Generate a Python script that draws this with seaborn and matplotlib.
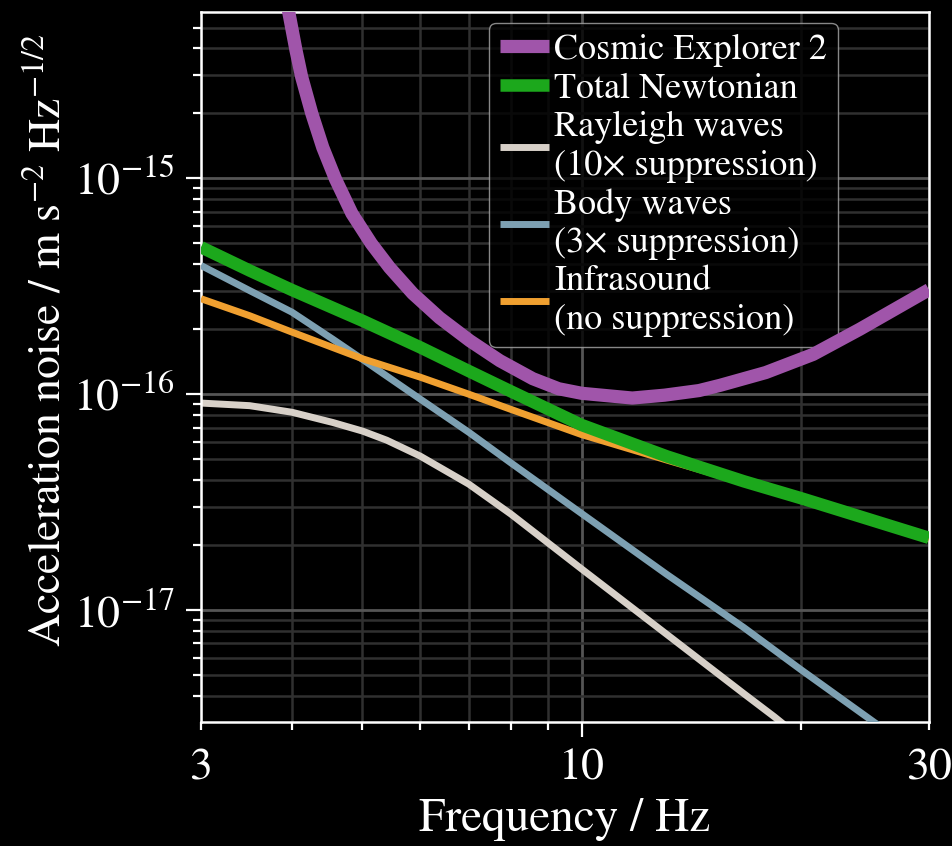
import numpy as np
import pandas as pd
import matplotlib as mpl
import matplotlib.pyplot as plt
from matplotlib.ticker import FixedLocator, FuncFormatter, NullFormatter
import seaborn as sns

# values: frequency in Hz, acceleration noise in m s^-2 Hz^-1/2
ce2_freq = [3.9, 3.963, 4.051, 4.125, 4.259, 4.41, 4.592, 4.835, 5.141, 5.448, 5.861,
            6.38, 7.02, 7.72, 8.57, 9.3, 10.0, 11.74, 13.0, 14.5, 15.5, 17.9, 20.8,
            24.1, 30.0]
ce2_asd = [7.7e-15, 5.81e-15, 3.93e-15, 2.95e-15, 2.0e-15, 1.39e-15, 9.9e-16, 6.88e-16,
           4.99e-16, 3.86e-16, 2.93e-16, 2.26e-16, 1.77e-16, 1.43e-16, 1.18e-16, 1.06e-16,
           1.01e-16, 9.6e-17, 9.9e-17, 1.04e-16, 1.1e-16, 1.26e-16, 1.53e-16, 2.0e-16,
           3.05e-16]

total_freq = [3.0, 3.5, 4.0, 5.0, 6.0, 7.0, 8.0, 10.0, 13.1, 16.7, 20.0, 30.0]
total_asd = [4.8e-16, 3.74e-16, 3.04e-16, 2.19e-16, 1.65e-16, 1.28e-16, 1.03e-16,
             7.2e-17, 5.15e-17, 3.95e-17, 3.3e-17, 2.16e-17]

rayleigh_freq = [3.0, 3.5, 4.0, 4.55, 5.0, 5.4, 6.0, 7.0, 8.0, 10.0, 13.1, 16.7, 18.4, 20.0]
rayleigh_asd = [9.1e-17, 8.85e-17, 8.25e-17, 7.4e-17, 6.75e-17, 6.12e-17, 5.17e-17,
                3.83e-17, 2.78e-17, 1.55e-17, 7.7e-18, 4.1e-18, 3.2e-18, 2.55e-18]

body_freq = [3.0, 3.5, 4.0, 4.55, 5.0, 6.0, 7.0, 8.0, 10.0, 13.1, 16.7, 20.0, 25.3, 30.0]
body_asd = [3.95e-16, 3.02e-16, 2.4e-16, 1.8e-16, 1.45e-16, 9.5e-17, 6.66e-17, 4.8e-17,
            2.8e-17, 1.46e-17, 8.3e-18, 5.3e-18, 3.0e-18, 2.0e-18]

infra_freq = [3.0, 3.5, 4.0, 5.0, 6.0, 7.0, 8.0, 10.0, 13.1, 16.7, 20.0, 30.0]
infra_asd = [2.77e-16, 2.31e-16, 1.94e-16, 1.46e-16, 1.2e-16, 1.0e-16, 8.5e-17, 6.5e-17,
             4.95e-17, 3.9e-17, 3.25e-17, 2.14e-17]

series = [
    ("Cosmic Explorer 2", ce2_freq, ce2_asd, "#a055aa", 9.5, 6),
    ("Total Newtonian", total_freq, total_asd, "#1ca81c", 9.0, 5),
    ("Rayleigh waves\n(10× suppression)", rayleigh_freq, rayleigh_asd, "#d7d0c8", 5.0, 2),
    ("Body waves\n(3× suppression)", body_freq, body_asd, "#7da0b2", 5.0, 3),
    ("Infrasound\n(no suppression)", infra_freq, infra_asd, "#f0a030", 5.0, 4),
]

sns.set_theme(style="dark", rc={
    "figure.facecolor": "black",
    "axes.facecolor": "black",
    "savefig.facecolor": "black",
    "text.color": "white",
    "axes.labelcolor": "white",
    "xtick.color": "white",
    "ytick.color": "white",
    "axes.edgecolor": "white",
})
mpl.rcParams["font.family"] = ["STIXGeneral", "DejaVu Serif"]
mpl.rcParams["mathtext.fontset"] = "stix"

big = 33
small = 26

fig = plt.figure(figsize=(9.53, 8.46), dpi=100)
ax = fig.add_axes([0.2109, 0.1466, 0.7639, 0.8392])

for label, f, a, color, lw, z in series:
    df = pd.DataFrame({"freq": f, "asd": a})
    sns.lineplot(data=df, x="freq", y="asd", ax=ax, color=color, linewidth=lw,
                 label=label, zorder=z, estimator=None,
                 solid_capstyle="butt", solid_joinstyle="round")

ax.set_xscale("log")
ax.set_yscale("log")
ax.set_xlim(3, 30)
ax.set_ylim(3.03e-18, 5.9e-15)

# x ticks: long tick at 10, short ones elsewhere, labels at 3, 10, 30
ax.xaxis.set_major_locator(FixedLocator([10]))
ax.xaxis.set_major_formatter(FuncFormatter(lambda v, p: f"{v:g}"))
ax.xaxis.set_minor_locator(FixedLocator([3, 4, 5, 6, 7, 8, 9, 20, 30]))
ax.xaxis.set_minor_formatter(FuncFormatter(lambda v, p: f"{v:g}" if v in (3, 30) else ""))

ax.yaxis.set_major_locator(FixedLocator([1e-17, 1e-16, 1e-15]))
y_minor = [m * 10.0 ** e for e in (-18, -17, -16, -15) for m in range(2, 10)]
y_minor = [v for v in y_minor if 3.03e-18 <= v <= 5.9e-15]
ax.yaxis.set_minor_locator(FixedLocator(y_minor))
ax.yaxis.set_minor_formatter(NullFormatter())

ax.tick_params(which="major", length=11, width=1.6, labelsize=big, pad=8,
               bottom=True, left=True, top=False, right=False)
ax.tick_params(which="minor", length=6, width=1.6, labelsize=big, pad=13,
               bottom=True, left=True, top=False, right=False)

ax.grid(which="major", color="#555555", linewidth=2.0)
ax.grid(which="minor", color="#303030", linewidth=1.8)
ax.set_axisbelow(True)

for s in ax.spines.values():
    s.set_visible(True)
    s.set_color("white")
    s.set_linewidth(1.8)

ax.set_xlabel("Frequency / Hz", fontsize=34, labelpad=6)
ax.set_ylabel(r"Acceleration noise / m s$^{-2}$ Hz$^{-1/2}$", fontsize=big)
ax.yaxis.set_label_coords(-0.18, 0.538)

leg = ax.legend(loc="upper right", bbox_to_anchor=(0.875, 0.9845), borderaxespad=0,
                fontsize=small, frameon=True, facecolor="black", edgecolor="#aaaaaa",
                framealpha=0.8, borderpad=0.3, handlelength=1.35, handletextpad=0.15,
                labelspacing=0.15, fancybox=True)
for t in leg.get_texts():
    t.set_color("white")

fig.savefig("out.png", dpi=100)
